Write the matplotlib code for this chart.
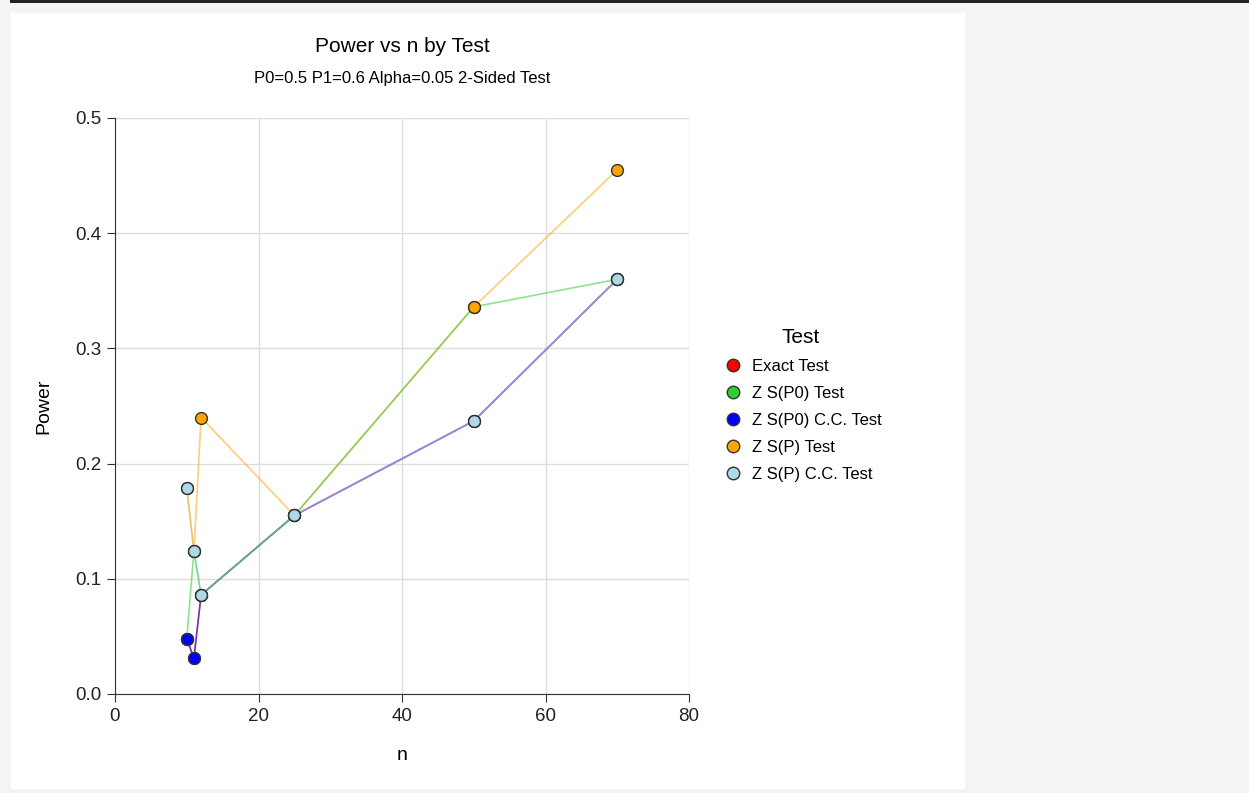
import matplotlib.pyplot as plt
from matplotlib.patches import Rectangle
from matplotlib.lines import Line2D

plt.rcParams['font.family'] = ['Liberation Sans', 'DejaVu Sans']

# sample sizes and power for each test
n = [10, 11, 12, 25, 50, 70]
exact = [0.048, 0.031, 0.086, 0.155, 0.237, 0.360]
zsp0 = [0.048, 0.124, 0.086, 0.155, 0.336, 0.360]
zsp0_cc = [0.048, 0.031, 0.086, 0.155, 0.237, 0.360]
zsp = [0.179, 0.124, 0.240, 0.155, 0.336, 0.455]
zsp_cc = [0.179, 0.124, 0.086, 0.155, 0.237, 0.360]

labels = ["Exact Test", "Z S(P0) Test", "Z S(P0) C.C. Test", "Z S(P) Test", "Z S(P) C.C. Test"]
colors = ["#ff0000", "#32cd32", "#0000ff", "#ffa500", "#add8e6"]
series = [exact, zsp0, zsp0_cc, zsp, zsp_cc]

fig = plt.figure(figsize=(12.49, 7.93), dpi=100)
fig.patch.set_facecolor("#f4f4f4")
# white panel + dark strip on top
fig.patches.append(Rectangle((11/1249, 1-789/793), 954/1249, 776/793,
                             transform=fig.transFigure, facecolor="white", edgecolor="none", zorder=-2))
fig.patches.append(Rectangle((10/1249, 1-3/793), 1239/1249, 3/793,
                             transform=fig.transFigure, facecolor="#222222", edgecolor="none", zorder=-2))

ax = fig.add_axes([115/1249, 1-694/793, 574/1249, 576/793])
ax.set_facecolor("white")

# lines (semi transparent, stacking order picked to match the colour mixing)
line_order = [0, 2, 4, 3, 1]
for i in line_order:
    ax.plot(n, series[i], color=colors[i], lw=1.2, alpha=0.55, zorder=2)
# markers on top
for ys, c in zip(series, colors):
    ax.plot(n, ys, ls="none", marker="o", ms=8.5, mfc=c, mec="#333333", mew=1, zorder=3)

ax.set_xlim(0, 80)
ax.set_ylim(0, 0.5)
ax.set_xticks([0, 20, 40, 60, 80])
ax.set_yticks([0.0, 0.1, 0.2, 0.3, 0.4, 0.5])
ax.set_yticklabels(["0.0", "0.1", "0.2", "0.3", "0.4", "0.5"])
ax.grid(True, color="#dddddd", lw=1)
ax.set_axisbelow(True)
for s in ["top", "right"]:
    ax.spines[s].set_visible(False)
for s in ["left", "bottom"]:
    ax.spines[s].set_color("#333333")
ax.tick_params(direction="out", length=6, color="#333333", labelsize=13.5, labelcolor="#222222", pad=4)
ax.set_xlabel("n", fontsize=14, labelpad=16)
ax.set_ylabel("Power", fontsize=14, labelpad=16)

fig.text(402/1249, 1-46/793, "Power vs n by Test", ha="center", va="center", fontsize=15)
fig.text(402/1249, 1-78/793, "P0=0.5 P1=0.6 Alpha=0.05 2-Sided Test", ha="center", va="center", fontsize=12)

handles = [Line2D([], [], ls="none", marker="o", ms=9, mfc=c, mec="#333333", mew=1) for c in colors]
leg = fig.legend(handles, labels, title="Test", loc="center left",
                 bbox_to_anchor=(705/1249, 1-405/793), frameon=False,
                 fontsize=12, title_fontsize=15, handletextpad=0.45,
                 labelspacing=0.72, handlelength=1.5)

fig.savefig("out.png", dpi=100)
